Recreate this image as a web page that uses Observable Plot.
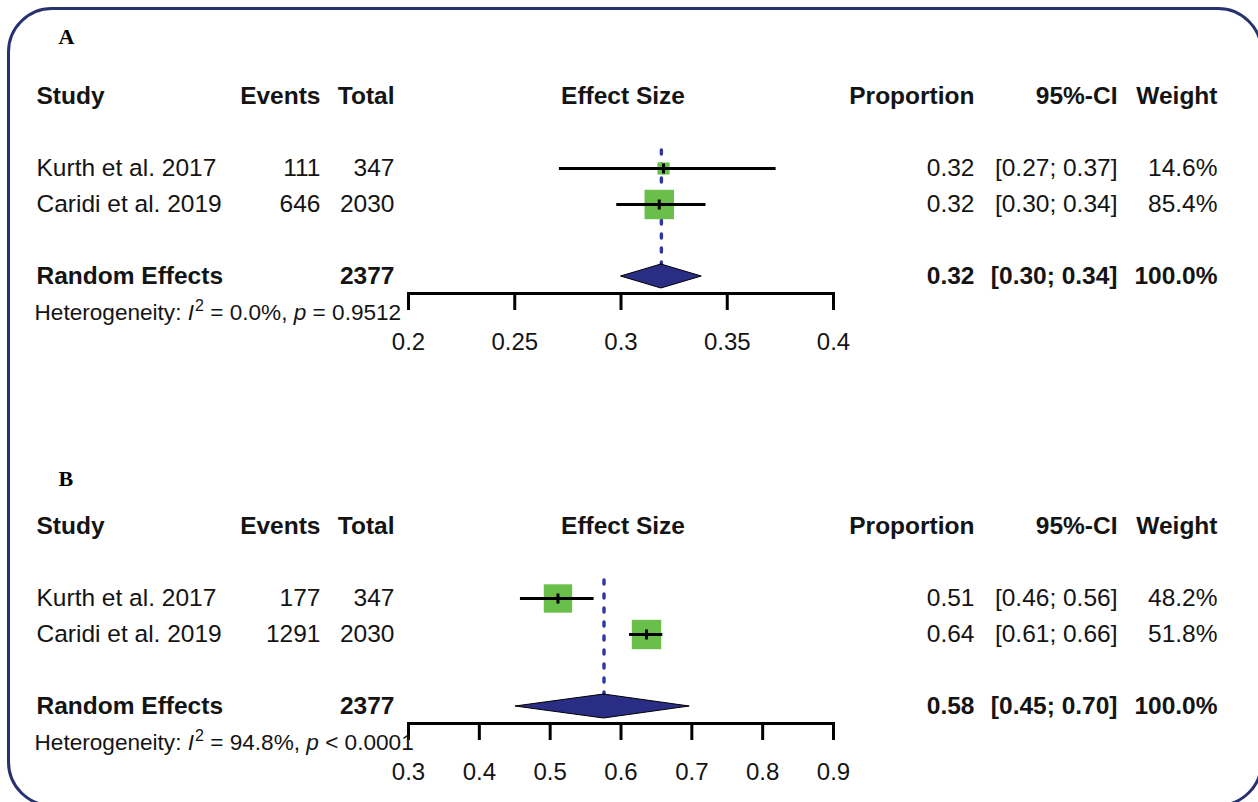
<!DOCTYPE html>
<html>
<head>
<meta charset="utf-8">
<script src="https://cdn.jsdelivr.net/npm/d3@7"></script>
<script src="https://cdn.jsdelivr.net/npm/@observablehq/plot@0.6"></script>
<style>
  html, body { margin: 0; padding: 0; background: #fff; }
  body { width: 1258px; height: 802px; position: relative; overflow: hidden; font-family: "Liberation Sans", Arial, sans-serif; }
  .panel { position: absolute; left: 0; }
  #border { position: absolute; left: 7px; top: 7px; width: 1250px; height: 794px; border: 3px solid #283270; border-radius: 45px; pointer-events: none; }
</style>
</head>
<body>
<div id="panelA" class="panel" style="top:0px"></div>
<div id="panelB" class="panel" style="top:430px"></div>
<div id="border"></div>
<script>
// ---------- data ----------
const studies = ["Kurth et al. 2017", "Caridi et al. 2019"];
const totals = [347, 2030];
const pooledTotal = 2377;

// Panel A
const eventsA = [111, 646];
const propA = [0.320, 0.318];
const lowerA = [0.271, 0.298];
const upperA = [0.373, 0.340];
const weightA = [14.6, 85.4];
const propLabelsA = ["0.32", "0.32"];
const ciLabelsA = ["[0.27; 0.37]", "[0.30; 0.34]"];
const reA = [0.319, 0.300, 0.338];            // estimate, lower, upper
const reLabelsA = ["0.32", "[0.30; 0.34]", "100.0%"];
const hetA = ["0.0%", "=", "0.9512"];
const ticksA = [0.2, 0.25, 0.3, 0.35, 0.4];

// Panel B
const eventsB = [177, 1291];
const propB = [0.511, 0.636];
const lowerB = [0.458, 0.612];
const upperB = [0.562, 0.659];
const weightB = [48.2, 51.8];
const propLabelsB = ["0.51", "0.64"];
const ciLabelsB = ["[0.46; 0.56]", "[0.61; 0.66]"];
const reB = [0.576, 0.451, 0.697];
const reLabelsB = ["0.58", "[0.45; 0.70]", "100.0%"];
const hetB = ["94.8%", "<", "0.0001"];
const ticksB = [0.3, 0.4, 0.5, 0.6, 0.7, 0.8, 0.9];

const headers = ["Study", "Events", "Total", "Effect Size", "Proportion", "95%-CI", "Weight"];

// ---------- style ----------
const GREEN = "#6abf4b";
const NAVY = "#2a2d84";
const DOT = "#3035a0";
const INK = "#141414";
const FS = 24.5;

// columns: [frameAnchor, dx, textAnchor]
const cols = {
  study:  ["left", -372, "start"],
  events: ["left", -88, "end"],
  total:  ["left", -14, "end"],
  effect: ["middle", 2, "middle"],
  prop:   ["right", 141, "end"],
  ci:     ["right", 284, "end"],
  weight: ["right", 384, "end"]
};
const colKeys = Object.keys(cols);

const vbar = { draw(ctx) { ctx.moveTo(0, -5); ctx.lineTo(0, 5); } };

function panel(cfg) {
  const rows = studies.map((s, i) => ({
    row: i, study: s, events: String(cfg.events[i]), total: String(totals[i]),
    prop: cfg.prop[i], lower: cfg.lower[i], upper: cfg.upper[i], weight: cfg.weight[i],
    propLabel: cfg.propLabels[i], ciLabel: cfg.ciLabels[i], weightLabel: cfg.weight[i].toFixed(1) + "%"
  }));
  const RE_ROW = 3, HEAD_ROW = -2, HET_ROW = 4;
  const [est, lo, hi] = cfg.re;
  const diamond = [
    {y: RE_ROW - 0.333, x1: est, x2: est},
    {y: RE_ROW, x1: lo, x2: hi},
    {y: RE_ROW + 0.333, x1: est, x2: est}
  ];
  const headerRow = {row: HEAD_ROW};
  headers.forEach((h, i) => headerRow[colKeys[i]] = h);
  const reRow = {row: RE_ROW, study: "Random Effects", total: String(pooledTotal),
    prop: cfg.reLabels[0], ci: cfg.reLabels[1], weight: cfg.reLabels[2]};
  const bodyRows = rows.map(r => ({row: r.row, study: r.study, events: r.events, total: r.total,
    prop: r.propLabel, ci: r.ciLabel, weight: r.weightLabel}));

  const textCols = (data, bold) => colKeys.map(k => Plot.text(data.filter(d => d[k] != null), {
    y: "row", text: k, frameAnchor: cols[k][0], dx: cols[k][1], textAnchor: cols[k][2],
    fontSize: FS, fontWeight: bold ? "bold" : "normal", fill: INK
  }));

  const maxW = d3.max(cfg.weight);
  const svg = Plot.plot({
    width: 1258, height: cfg.height,
    marginLeft: 408, marginRight: 425, marginTop: 96, marginBottom: cfg.height - 293,
    style: {fontFamily: "'Liberation Sans', Arial, sans-serif", background: "transparent", overflow: "visible"},
    x: {domain: cfg.domain, axis: null},
    y: {domain: [HEAD_ROW, HEAD_ROW + 197 / 36], reverse: true, axis: null},
    r: {type: "sqrt", domain: [0, maxW], range: [0, 16.6]},
    marks: [
      Plot.ruleX([est], {x: d => d, y1: -0.5, y2: RE_ROW - 0.333, stroke: DOT, strokeWidth: 3.4,
        strokeDasharray: "4,10", strokeLinecap: "round"}),
      Plot.dot(rows, {x: "prop", y: "row", r: "weight", symbol: "square", fill: GREEN, stroke: null}),
      Plot.ruleY(rows, {y: "row", x1: "lower", x2: "upper", stroke: "#000", strokeWidth: 3}),
      Plot.dot(rows, {x: "prop", y: "row", symbol: vbar, r: 5, stroke: "#000", strokeWidth: 3, fill: "none"}),
      Plot.areaX(diamond, {y: "y", x1: "x1", x2: "x2", fill: NAVY, stroke: "#000", strokeWidth: 1}),
      Plot.frame({anchor: "bottom", stroke: "#000", strokeWidth: 3}),
      Plot.axisX({ticks: cfg.ticks, tickFormat: d => String(d), tickSize: 17, tickPadding: 22,
        strokeWidth: 3, stroke: "#000", fontSize: 24, fill: INK}),
      ...textCols([headerRow], true),
      ...textCols(bodyRows, false),
      ...textCols([reRow], true),
      Plot.text([{row: HET_ROW, het: "Heterogeneity"}], {y: "row", text: "het", frameAnchor: "left",
        dx: -374, textAnchor: "start", fontSize: 22.6, fill: INK}),
      Plot.text([cfg.letter], {frameAnchor: "top-left", dx: -350, dy: cfg.letterDy, text: d => d,
        textAnchor: "start", lineAnchor: "middle",
        fontFamily: "'Liberation Serif', 'Times New Roman', serif", fontWeight: "bold", fontSize: 22, fill: "#000"})
    ]
  });

  // rich heterogeneity label: italic I, superscript 2, italic p
  d3.select(svg).selectAll("text").each(function() {
    if (this.textContent === "Heterogeneity") {
      const t = d3.select(this);
      t.text(null);
      t.append("tspan").text("Heterogeneity: ");
      t.append("tspan").attr("font-style", "italic").text("I");
      t.append("tspan").attr("font-size", "16px").attr("dy", "-9").attr("dx", "1").text("2");
      t.append("tspan").attr("dy", "9").text(" = " + cfg.het[0] + ", ");
      t.append("tspan").attr("font-style", "italic").text("p");
      t.append("tspan").text(" " + cfg.het[1] + " " + cfg.het[2]);
    }
  });
  return svg;
}

document.getElementById("panelA").appendChild(panel({
  height: 430, domain: [0.2, 0.4], ticks: ticksA, letter: "A", letterDy: -60,
  events: eventsA, prop: propA, lower: lowerA, upper: upperA, weight: weightA,
  propLabels: propLabelsA, ciLabels: ciLabelsA, re: reA, reLabels: reLabelsA, het: hetA
}));
document.getElementById("panelB").appendChild(panel({
  height: 372, domain: [0.3, 0.9], ticks: ticksB, letter: "B", letterDy: -48,
  events: eventsB, prop: propB, lower: lowerB, upper: upperB, weight: weightB,
  propLabels: propLabelsB, ciLabels: ciLabelsB, re: reB, reLabels: reLabelsB, het: hetB
}));
</script>
</body>
</html>
